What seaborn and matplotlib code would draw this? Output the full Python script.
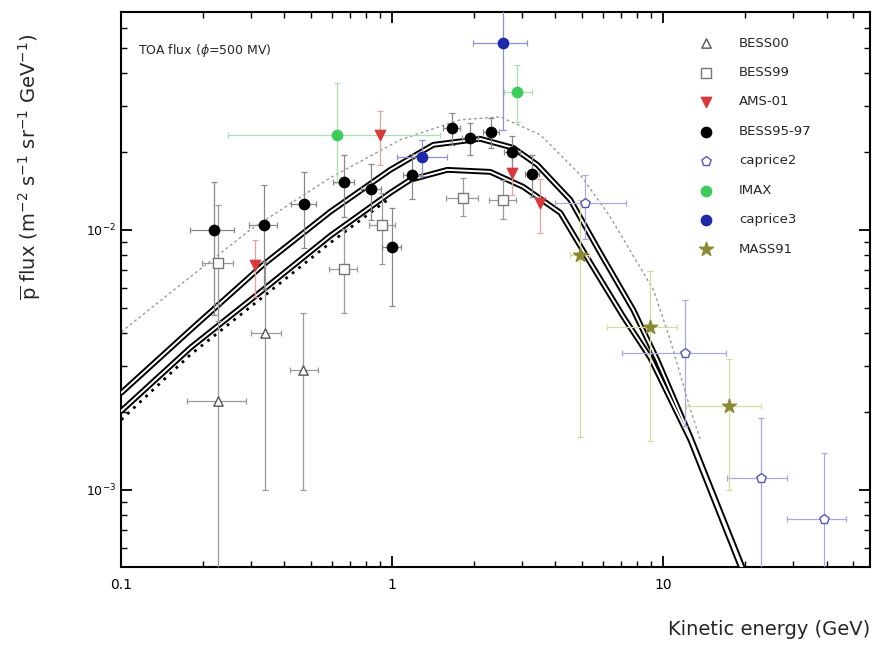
import numpy as np
import matplotlib
matplotlib.use("Agg")
import matplotlib.pyplot as plt
import matplotlib.ticker as mticker
import seaborn as sns

# ---------------- data ----------------
# model curves
upper_x = [0.1, 0.18, 0.334, 0.59, 0.983, 1.417, 2.112, 2.796, 3.43, 4.54, 5.85, 7.75, 9.50, 12.58, 19.56]
upper_y = [0.00236, 0.00412, 0.00734, 0.01173, 0.01701, 0.02123, 0.02239, 0.02067, 0.01778, 0.01304,
           0.00816, 0.00492, 0.00316, 0.0016, 0.000506]
lower_x = [0.1, 0.18, 0.334, 0.59, 0.983, 1.165, 1.596, 2.30, 3.04, 4.17, 5.38, 7.12, 8.95, 12.58, 19.3]
lower_y = [0.00201, 0.00352, 0.00588, 0.00948, 0.01388, 0.01557, 0.01701, 0.01671, 0.01464, 0.01163,
           0.00747, 0.00463, 0.00322, 0.001557, 0.000506]
dotted_x = [0.1, 0.18, 0.334, 0.59, 0.983]
dotted_y = [0.00186, 0.00331, 0.00553, 0.00891, 0.01328]
dash_x = [0.1, 0.165, 0.299, 0.59, 1.07, 1.78, 2.50, 3.52, 4.94, 6.37, 9.19, 10.6, 12.6, 13.7]
dash_y = [0.00405, 0.00614, 0.0100, 0.01585, 0.02219, 0.02649, 0.0272, 0.02319, 0.01627, 0.01122,
          0.00588, 0.00378, 0.00203, 0.001557]

# experiments
bess00_x = [0.228, 0.34, 0.47]
bess00_y = [0.0022, 0.0040, 0.0029]
bess00_ylo = [0.0017, 0.0030, 0.0019]
bess00_yhi = [0.0030, 0.0035, 0.0019]
bess00_xlo = [0.053, 0.04, 0.05]
bess00_xhi = [0.06, 0.05, 0.06]

bess99_x = [0.228, 0.664, 0.92, 1.83, 2.57]
bess99_y = [0.00747, 0.00708, 0.0104, 0.0133, 0.0130]
bess99_ylo = [0.0030, 0.0023, 0.0030, 0.0020, 0.0020]
bess99_yhi = [0.0050, 0.0030, 0.0035, 0.0025, 0.0025]
bess99_xlo = [0.03, 0.08, 0.10, 0.25, 0.3]
bess99_xhi = [0.03, 0.08, 0.10, 0.25, 0.3]

ams_x = [0.312, 0.90, 2.77, 3.52]
ams_y = [0.0073, 0.0232, 0.0166, 0.0127]
ams_err = [0.0018, 0.0055, 0.0030, 0.0030]

bess9597_x = [0.220, 0.337, 0.473, 0.664, 0.837, 1.00, 1.185, 1.66, 1.94, 2.32, 2.77, 3.29]
bess9597_y = [0.0100, 0.0104, 0.0126, 0.0153, 0.0144, 0.0086, 0.0163, 0.0247, 0.0226, 0.0238, 0.0200, 0.0164]
bess9597_err = [0.0053, 0.0045, 0.0041, 0.0041, 0.0035, 0.0035, 0.0032, 0.0035, 0.0032, 0.0032, 0.0030, 0.0030]
bess9597_xerr = [0.04, 0.04, 0.05, 0.06, 0.07, 0.08, 0.09, 0.12, 0.13, 0.16, 0.18, 0.2]

caprice2_x = [5.15, 12.05, 23.0, 39.3]
caprice2_y = [0.0127, 0.00336, 0.00111, 0.00077]
caprice2_ylo = [0.0035, 0.0016, 0.0008, 0.0005]
caprice2_yhi = [0.0035, 0.0020, 0.00078, 0.00062]
caprice2_xlo = [1.15, 5.0, 5.8, 10.8]
caprice2_xhi = [2.15, 5.0, 5.5, 7.7]

imax_x = [0.627, 2.89]
imax_y = [0.0232, 0.0339]
imax_ylo = [0.0080, 0.0080]
imax_yhi = [0.0135, 0.0090]
imax_xlo = [0.38, 0.3]
imax_xhi = [0.87, 0.4]

caprice3_x = [1.29, 2.57]
caprice3_y = [0.0191, 0.0524]
caprice3_ylo = [0.0030, 0.0282]
caprice3_yhi = [0.0030, 0.0300]
caprice3_xlo = [0.25, 0.59]
caprice3_xhi = [0.30, 0.58]

mass_x = [4.94, 8.95, 17.5]
mass_y = [0.0080, 0.00424, 0.0021]
mass_ylo = [0.0064, 0.0027, 0.0011]
mass_yhi = [0.0050, 0.0027, 0.0011]
mass_xlo = [0.4, 2.75, 5.4]
mass_xhi = [0.4, 2.25, 5.5]

# ---------------- figure ----------------
sns.set_theme(style="ticks")
plt.rcParams['font.family'] = ['DejaVu Sans']
fig = plt.figure(figsize=(8.72, 6.51), dpi=100)
ax = fig.add_axes([0.139, 0.129, 0.859, 0.853])
ax.set_xscale("log")
ax.set_yscale("log")

# model curves
sns.lineplot(x=dash_x, y=dash_y, ax=ax, color="#9a9a9a", lw=1.0, linestyle=(0, (2, 2)), zorder=2, sort=False)
for cx, cy in [(upper_x, upper_y), (lower_x, lower_y)]:
    sns.lineplot(x=cx, y=cy, ax=ax, color="black", lw=4.2, zorder=3, sort=False)
    sns.lineplot(x=cx, y=cy, ax=ax, color="white", lw=1.4, zorder=3.1, sort=False)
sns.lineplot(x=dotted_x, y=dotted_y, ax=ax, color="black", lw=2.0, linestyle=(0, (1, 2)), zorder=3, sort=False)

def plot_set(x, y, xerr, yerr, ecolor, marker, face, edge, label, s=55):
    ax.errorbar(x, y, xerr=xerr, yerr=yerr, fmt="none", ecolor=ecolor, elinewidth=0.9,
                capsize=2.5, capthick=0.9, zorder=4)
    sns.scatterplot(x=x, y=y, ax=ax, marker=marker, s=s, color=face, edgecolor=edge,
                    linewidth=1.0, label=label, zorder=5)

plot_set(bess00_x, bess00_y, [bess00_xlo, bess00_xhi], [bess00_ylo, bess00_yhi],
         "#9a9a9a", "^", "white", "#555555", "BESS00", s=45)
plot_set(bess99_x, bess99_y, [bess99_xlo, bess99_xhi], [bess99_ylo, bess99_yhi],
         "#9a9a9a", "s", "white", "#777777", "BESS99", s=45)
plot_set(ams_x, ams_y, ams_err, ams_err, "#e8a0a0", "v", "#d83a3a", "#d83a3a", "AMS-01")
plot_set(bess9597_x, bess9597_y, bess9597_xerr, bess9597_err, "#888888", "o", "black", "black", "BESS95-97")
plot_set(caprice2_x, caprice2_y, [caprice2_xlo, caprice2_xhi], [caprice2_ylo, caprice2_yhi],
         "#a8a8e0", "p", "white", "#5555bb", "caprice2", s=50)
plot_set(imax_x, imax_y, [imax_xlo, imax_xhi], [imax_ylo, imax_yhi], "#a8e0b0", "o", "#3ccc5a", "#3ccc5a", "IMAX")
plot_set(caprice3_x, caprice3_y, [caprice3_xlo, caprice3_xhi], [caprice3_ylo, caprice3_yhi],
         "#9090d0", "o", "#1c2aa8", "#1c2aa8", "caprice3")
plot_set(mass_x, mass_y, [mass_xlo, mass_xhi], [mass_ylo, mass_yhi], "#d8d8a0", "*", "#8a8a32", "#8a8a32", "MASS91", s=110)

ax.set_xlim(0.1, 58)
ax.set_ylim(5.05e-4, 6.9e-2)

# axes styling
for sp in ax.spines.values():
    sp.set_linewidth(1.5)
    sp.set_color("black")
ax.tick_params(which="both", direction="in", top=True, right=True, colors="black")
ax.tick_params(which="major", length=8, width=1.3, labelsize=9)
ax.tick_params(which="minor", length=4, width=1.0)
ax.xaxis.set_major_locator(mticker.FixedLocator([0.1, 1, 10]))
ax.xaxis.set_major_formatter(mticker.FixedFormatter(["0.1", "1", "10"]))
ax.xaxis.set_minor_locator(mticker.LogLocator(base=10, subs=np.arange(2, 10)))
ax.xaxis.set_minor_formatter(mticker.NullFormatter())
ax.yaxis.set_major_locator(mticker.LogLocator(base=10))
ax.yaxis.set_minor_locator(mticker.LogLocator(base=10, subs=np.arange(2, 10)))
ax.yaxis.set_minor_formatter(mticker.NullFormatter())
ax.tick_params(axis="x", which="major", pad=8, labelsize=10)

ax.set_xlabel("Kinetic energy (GeV)", loc="right", fontsize=14, labelpad=20)
ax.set_ylabel(r"$\overline{\rm p}$ flux (m$^{-2}$ s$^{-1}$ sr$^{-1}$ GeV$^{-1}$)", fontsize=14)
ax.yaxis.set_label_coords(-0.105, 0.72)

ax.text(0.022, 0.93, r"TOA flux ($\phi$=500 MV)", transform=ax.transAxes, fontsize=9, va="center")

leg = ax.legend(loc="upper left", bbox_to_anchor=(0.751, 0.972), frameon=False, fontsize=9.5,
                labelspacing=1.25, handletextpad=1.5, borderpad=0.2)

fig.savefig("out.png", dpi=100)
